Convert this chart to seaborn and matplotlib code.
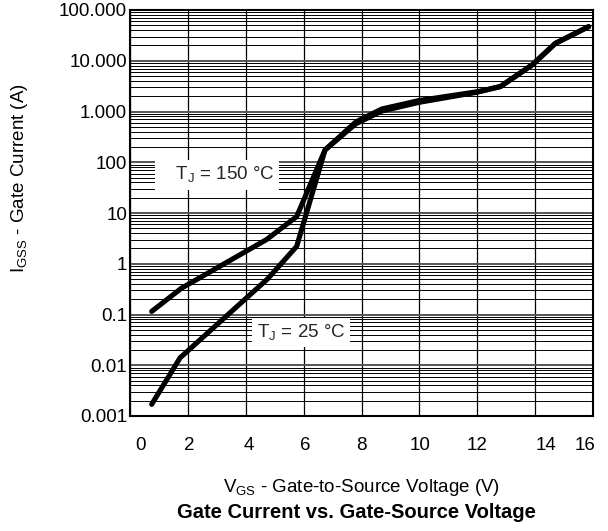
import numpy as np
import pandas as pd
import matplotlib
matplotlib.use("Agg")
import matplotlib.pyplot as plt
import matplotlib.transforms as mtransforms
from matplotlib.ticker import FixedLocator, LogLocator, NullFormatter
import seaborn as sns

# ---- data ----
vgs_150 = [0.75, 1.78, 4.72, 5.76, 6.74, 7.8, 8.7, 10.0, 12.0, 12.8, 13.9, 14.7, 15.85]
igss_150 = [0.115, 0.33, 3.0, 8.5, 175, 620, 1120, 1650, 2450, 3100, 8300, 22000, 47000]
vgs_25 = [0.75, 1.73, 4.75, 5.76, 6.74, 7.8, 8.7, 10.0, 12.0, 12.8, 13.9, 14.7, 15.85]
igss_25 = [0.0017, 0.014, 0.5, 2.2, 175, 570, 1020, 1520, 2400, 3100, 8300, 22000, 47000]
x_ticks = [0, 2, 4, 6, 8, 10, 12, 14, 16]
x_ticklabels = ["0", "2", "4", "6", "8", "10", "12", "14", "16"]
y_ticks = [1e-3, 1e-2, 1e-1, 1e0, 1e1, 1e2, 1e3, 1e4, 1e5]
y_ticklabels = ["0.001", "0.01", "0.1", "1", "10", "100", "1.000", "10.000", "100.000"]
label_150 = "   T$_\\mathregular{J}$ = 150 °C"
label_25 = "T$_\\mathregular{J}$ = 25 °C"
label_150_pos = (3.02, 56)
label_25_pos = (5.91, 0.044)

df = pd.concat([
    pd.DataFrame({"vgs": vgs_150, "igss": igss_150, "tj": "150"}),
    pd.DataFrame({"vgs": vgs_25, "igss": igss_25, "tj": "25"}),
], ignore_index=True)

sns.set_theme(style="white")
plt.rcParams["font.family"] = ["Liberation Sans", "DejaVu Sans"]

fig = plt.figure(figsize=(6.08, 5.31), dpi=100)
ax = fig.add_axes([130 / 608, 1 - 416 / 531, 463 / 608, 406 / 531])

sns.lineplot(data=df, x="vgs", y="igss", hue="tj", palette={"150": "black", "25": "black"},
             sort=False, estimator=None, legend=False, linewidth=3.7, ax=ax,
             solid_capstyle="round", zorder=5)

ax.set_yscale("log")
ax.set_xlim(0, 16)
ax.set_ylim(1e-3, 1e5)

ax.xaxis.set_major_locator(FixedLocator(x_ticks))
ax.set_xticklabels(x_ticklabels)
ax.yaxis.set_major_locator(FixedLocator(y_ticks))
ax.set_yticklabels(y_ticklabels)
ax.yaxis.set_minor_locator(LogLocator(base=10, subs=np.arange(2, 10), numticks=20))
ax.yaxis.set_minor_formatter(NullFormatter())

ax.tick_params(axis="both", which="both", length=0)
ax.tick_params(axis="x", pad=15, labelsize=13.5, colors="black")
ax.tick_params(axis="y", pad=2, labelsize=13.5, colors="black")

# small per-label horizontal offsets as in the reference
dx_px = [10, 1, 3, 2, 0, 1, 0, 11, -8]
for lab, d in zip(ax.get_xticklabels(), dx_px):
    lab.set_transform(lab.get_transform() + mtransforms.ScaledTranslation(d / 100, 0, fig.dpi_scale_trans))

ax.grid(True, axis="x", which="major", color="black", linewidth=0.9)
ax.grid(True, axis="y", which="major", color="#555555", linewidth=1.4)
ax.grid(True, axis="y", which="minor", color="black", linewidth=0.7)
ax.set_axisbelow(True)

for s in ax.spines.values():
    s.set_visible(True)
    s.set_color("black")
    s.set_linewidth(1.5)
    s.set_zorder(6)

ax.set_xlabel("V$_\\mathregular{GS}$ - Gate-to-Source Voltage (V)", fontsize=13.5, color="black",
              va="center")
ax.xaxis.set_label_coords(0.5, -0.175)
ax.set_ylabel("I$_\\mathregular{GSS}$ - Gate Current (A)", fontsize=13.5, color="black",
              va="center", ha="center")
ax.yaxis.set_label_coords(-0.238, 0.586)

bbox = dict(boxstyle="square,pad=0.25", fc="white", ec="none")
ax.text(*label_150_pos, label_150, ha="center", va="center", fontsize=13.5, bbox=bbox, zorder=7)
ax.text(*label_25_pos, label_25, ha="center", va="center", fontsize=13.5, bbox=bbox, zorder=7)

fig.text(356 / 608, 1 - 513 / 531, "Gate Current vs. Gate-Source Voltage",
         ha="center", va="center", fontsize=14.5, fontweight="bold", color="black")

fig.savefig("out.png", dpi=100, facecolor="white")
